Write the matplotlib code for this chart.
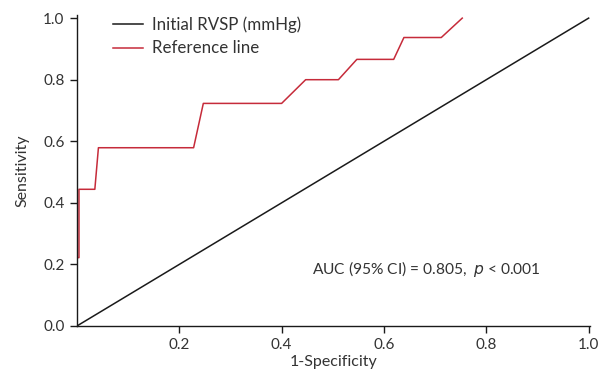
import matplotlib.pyplot as plt
import numpy as np

# ROC curve (1-specificity, sensitivity)
fpr = [0.0, 0.004, 0.004, 0.035, 0.042, 0.228, 0.247, 0.400, 0.447,
       0.511, 0.547, 0.619, 0.639, 0.712, 0.753]
tpr = [0.222, 0.222, 0.444, 0.444, 0.579, 0.579, 0.723, 0.723, 0.800,
       0.800, 0.866, 0.866, 0.937, 0.937, 1.0]
diag = [0.0, 1.0]
x_ticks = [0.2, 0.4, 0.6, 0.8, 1.0]
y_ticks = [0.0, 0.2, 0.4, 0.6, 0.8, 1.0]

plt.rcParams['font.family'] = ['Lato', 'DejaVu Sans']
text_color = '#333333'
red = '#c62b3a'

fig = plt.figure(figsize=(6.01, 3.76), dpi=100)
ax = fig.add_axes([0.128, 0.133, 0.854, 0.827])

ax.plot(diag, diag, color='#1a1a1a', linewidth=1.1, label='Initial RVSP (mmHg)')
ax.plot(fpr, tpr, color=red, linewidth=1.1, label='Reference line')

ax.set_xlim(0, 1.003)
ax.set_ylim(0, 1.01)
ax.set_xticks(x_ticks)
ax.set_yticks(y_ticks)
ax.set_xticklabels(['{:.1f}'.format(v) for v in x_ticks])
ax.set_yticklabels(['{:.1f}'.format(v) for v in y_ticks])

ax.spines['top'].set_visible(False)
ax.spines['right'].set_visible(False)
for s in ['left', 'bottom']:
    ax.spines[s].set_color('#1a1a1a')
    ax.spines[s].set_linewidth(1.0)
ax.tick_params(direction='out', length=5, width=1.0, colors='#1a1a1a',
               labelcolor=text_color, labelsize=11, pad=4)

ax.set_xlabel('1-Specificity', fontsize=11.5, color=text_color, labelpad=2)
ax.set_ylabel('Sensitivity', fontsize=11.5, color=text_color, labelpad=10)

leg = ax.legend(loc='upper left', bbox_to_anchor=(0.04, 1.045), frameon=False,
                fontsize=12.2, handlelength=1.8, handletextpad=0.5,
                labelspacing=0.45, labelcolor=text_color)

ax.text(0.46, 0.185, r'AUC (95% CI) = 0.805,  $p$ < 0.001', fontsize=11.2,
        color=text_color, va='center', ha='left')

fig.savefig('out.png', dpi=100)
